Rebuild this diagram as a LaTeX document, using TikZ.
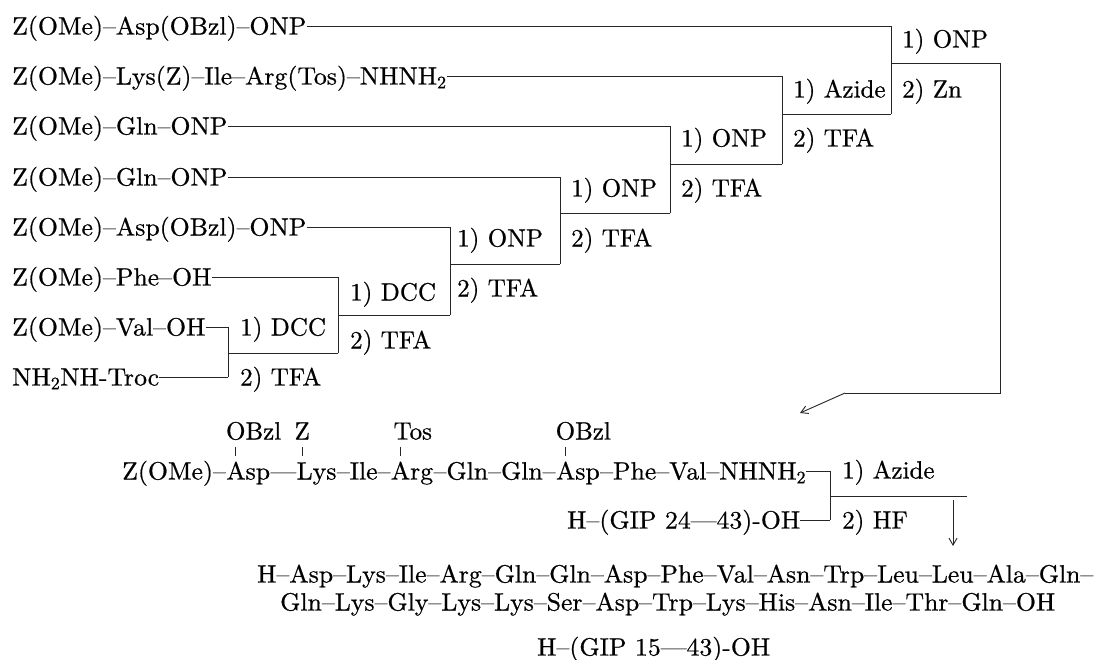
\documentclass[tikz,border=0pt]{standalone}
\usepackage{fontspec}
\setmainfont{lmroman10-regular.otf}[FakeBold=0.6]
\usetikzlibrary{arrows.meta,calc}
\newcommand\wid[1]{\scalebox{1.03}[1]{#1}}
\begin{document}
\begin{tikzpicture}[x=1pt,y=-1pt,
  txt/.style={inner sep=0pt, anchor=west, text height=17pt, text depth=0pt,
              font=\fontsize{25}{30}\selectfont},
  ln/.style={line width=0.9pt, black!85},
  arr/.style={ln, -{Straight Barb[length=7pt,width=8pt]}},
]
\useasboundingbox[fill=white] (0,0) rectangle (1102,659);

% ---- starting materials (rows) ----
\node[txt] (r1) at (12,26)  {\wid{Z(OMe)--Asp(OBzl)--ONP}};
\node[txt] (r2) at (12,76)  {\wid{Z(OMe)--Lys(Z)--Ile--Arg(Tos)--NHNH\textsubscript{2}}};
\node[txt] (r3) at (12,126) {\wid{Z(OMe)--Gln--ONP}};
\node[txt] (r4) at (12,177) {\wid{Z(OMe)--Gln--ONP}};
\node[txt] (r5) at (12,227) {\wid{Z(OMe)--Asp(OBzl)--ONP}};
\node[txt] (r6) at (12,277) {\wid{Z(OMe)--Phe--OH}};
\node[txt] (r7) at (12,327) {\wid{Z(OMe)--Val--OH}};
\node[txt] (r8) at (12,377) {\wid{NH\textsubscript{2}NH-Troc}};

% ---- bracket corners ----
\coordinate (t1) at (891,26);  \coordinate (m1) at (891,63);
\coordinate (t2) at (782,76);  \coordinate (m2) at (782,114);
\coordinate (t3) at (670,126); \coordinate (m3) at (670,164);
\coordinate (t4) at (560,177); \coordinate (m4) at (560,213);
\coordinate (t5) at (450,227); \coordinate (m5) at (450,264);
\coordinate (t6) at (338,277); \coordinate (m6) at (338,315);
\coordinate (t7) at (228,327); \coordinate (m7) at (228,353);
\coordinate (b7) at (228,377);
\coordinate (e1) at (1000,63);
\coordinate (e2) at (1000,393);
\coordinate (e3) at (845,393);
\coordinate (e4) at (800,413);

% row lines and verticals
\draw[ln] (r1.east) -- (t1) -- (891,114);
\draw[ln] (r2.east) -- (t2) -- (782,164);
\draw[ln] (r3.east) -- (t3) -- (670,213);
\draw[ln] (r4.east) -- (t4) -- (560,264);
\draw[ln] (r5.east) -- (t5) -- (450,315);
\draw[ln] (r6.east) -- (t6) -- (338,353);
\draw[ln] (r7.east) -- (t7) -- (b7);
\draw[ln] (r8.east) -- (b7);
% product lines
\draw[ln] (m7) -- (338,353);
\draw[ln] (m6) -- (450,315);
\draw[ln] (m5) -- (560,264);
\draw[ln] (m4) -- (670,213);
\draw[ln] (m3) -- (782,164);
\draw[ln] (m2) -- (891,114);
\draw[ln] (m1) -- (e1) -- (e2) -- (e3);
\draw[arr] (e3) -- (e4);

% ---- reagent labels ----
\node[txt] (l1a) at (902,39)  {1) ONP};
\node[txt] (l1b) at (902,89)  {2) Zn};
\node[txt] (l2a) at (793,89)  {1) Azide};
\node[txt] (l2b) at (793,138) {2) TFA};
\node[txt] (l3a) at (681,138) {1) ONP};
\node[txt] (l3b) at (681,188) {2) TFA};
\node[txt] (l4a) at (571,188) {1) ONP};
\node[txt] (l4b) at (571,238) {2) TFA};
\node[txt] (l5a) at (457,238) {1) ONP};
\node[txt] (l5b) at (457,288) {2) TFA};
\node[txt] (l6a) at (350,292) {1) DCC};
\node[txt] (l6b) at (350,340) {2) TFA};
\node[txt] (l7a) at (240,327) {1) DCC};
\node[txt] (l7b) at (240,377) {2) TFA};

% ---- protected fragment ----
\node[txt] (p1) at (122,471) {\wid{Z(OMe)--}};
\node[txt] (p2) at (p1.east) {\wid{Asp}};
\node[txt] (p3) at (p2.east) {\wid{---}};
\node[txt] (p4) at (p3.east) {\wid{Lys}};
\node[txt] (p5) at (p4.east) {\wid{--Ile--}};
\node[txt] (p6) at (p5.east) {\wid{Arg}};
\node[txt] (p7) at (p6.east) {\wid{--Gln--Gln--}};
\node[txt] (p8) at (p7.east) {\wid{Asp}};
\node[txt] (p9) at (p8.east) {\wid{--Phe--Val--NHNH\textsubscript{2}}};

\path ([xshift=9.7pt]p2.west) coordinate (q2)
      ([xshift=5.5pt]p4.west) coordinate (q4)
      ([xshift=9.7pt]p6.west) coordinate (q6)
      ([xshift=9.7pt]p8.west) coordinate (q8);
\path (q2 |- 0,447) coordinate (k2t) (q2 |- 0,456) coordinate (k2b)
      (q4 |- 0,447) coordinate (k4t) (q4 |- 0,456) coordinate (k4b)
      (q6 |- 0,447) coordinate (k6t) (q6 |- 0,456) coordinate (k6b)
      (q8 |- 0,447) coordinate (k8t) (q8 |- 0,456) coordinate (k8b);
\node[txt] (s2) at ($(k2t)+(-10,-16)$) {OBzl};
\node[txt] (s4) at ($(k4t)+(-7.6,-16)$) {Z};
\node[txt] (s6) at ($(k6t)+(-7,-16)$) {Tos};
\node[txt] (s8) at ($(k8t)+(-10,-16)$) {OBzl};
\draw[ln] (k2t) -- (k2b);
\draw[ln] (k4t) -- (k4b);
\draw[ln] (k6t) -- (k6b);
\draw[ln] (k8t) -- (k8b);

\node[txt] (g24) at (567,520) {\wid{H--(GIP 24---43)-OH}};
\coordinate (c1) at (830,471);
\coordinate (c2) at (830,520);
\coordinate (h1) at (830,496);
\coordinate (h2) at (967,496);
\coordinate (d1) at (953,500);
\coordinate (d2) at (953,546);
\draw[ln] (p9.east) -- (c1) -- (c2);
\draw[ln] (g24.east) -- (c2);
\draw[ln] (h1) -- (h2);
\draw[arr] (d1) -- (d2);
\node[txt] (fa) at (842,470) {1) Azide};
\node[txt] (fb) at (842,520) {2) HF};

% ---- product ----
\node[txt] (b1) at (257,574) {\wid{H--Asp--Lys--Ile--Arg--Gln--Gln--Asp--Phe--Val--Asn--Trp--Leu--Leu--Ala--Gln--}};
\node[txt] (b2) at (280,602) {\wid{Gln--Lys--Gly--Lys--Lys--Ser--Asp--Trp--Lys--His--Asn--Ile--Thr--Gln--OH}};
\node[txt] (b3) at (537,647) {\wid{H--(GIP 15---43)-OH}};
\end{tikzpicture}
\end{document}
